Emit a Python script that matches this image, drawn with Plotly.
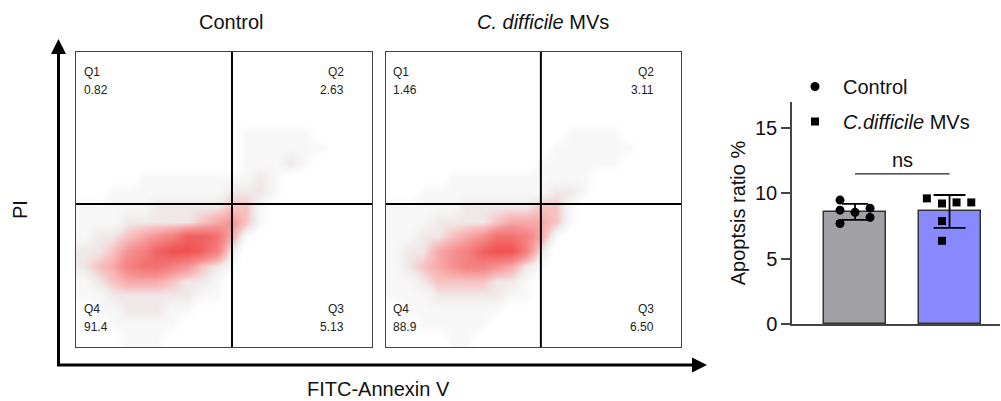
import numpy as np
import plotly.graph_objects as go

W, H = 1001, 401

# ---------------- data ----------------
panel_titles = ["Control", "<i>C. difficile</i> MVs"]
quad_names = ["Q1", "Q2", "Q3", "Q4"]
quad_control = ["0.82", "2.63", "5.13", "91.4"]
quad_mvs = ["1.46", "3.11", "6.50", "88.9"]
gate_x = [0.527, 0.525]
gate_y = [0.485, 0.485]

# estimated event density (0-9), rows top -> bottom
density_control = [
    "00000000000000000000",
    "00000000000000000000",
    "00000000000000000000",
    "00000000000000000000",
    "00000000000000000000",
    "00000000000111110000",
    "00000000000111111000",
    "00000000000111210000",
    "00001111111121000000",
    "00111111112221000000",
    "11111222223310000000",
    "11122222345310000000",
    "12234568874100000000",
    "22356899862000000000",
    "23467765321000000000",
    "12344432210000000000",
    "11222222110000000000",
    "01122211000000000000",
    "00111110000000000000",
    "00011100000000000000",
]
density_mvs = [
    "00000000000000000000",
    "00000000000000000000",
    "00000000000000000000",
    "00000000000000000000",
    "00000000000000000000",
    "00000000000011110000",
    "00000000000111111000",
    "00000000001111110000",
    "00001111111111000000",
    "00111111111221000000",
    "11111222223310000000",
    "11122223444310000000",
    "11223457764100000000",
    "12245689962000000000",
    "12345665421000000000",
    "11233332210000000000",
    "11122222110000000000",
    "01111111000000000000",
    "00111110000000000000",
    "00001100000000000000",
]

groups = ["Control", "<i>C.difficile</i> MVs"]
control_vals = [9.49, 8.72, 8.55, 8.87, 8.16, 7.70]
mvs_vals = [9.62, 9.23, 9.31, 9.31, 7.88, 6.37]
control_jitter = [-0.159, -0.159, 0.0, 0.159, 0.159, -0.159]
mvs_jitter = [-0.24, -0.08, 0.074, 0.23, -0.08, -0.08]
bar_ticks = [0, 5, 10, 15]
sig_label = "ns"
sig_y = 11.5


def px(x):
    return x / W


def py(y):
    return 1 - y / H


FONT = "Arial, Liberation Sans, sans-serif"
fig = go.Figure()

cs = [
    [0.0, "rgba(255,255,255,0)"],
    [0.111, "rgba(238,238,238,0.45)"],
    [0.222, "rgb(240,232,232)"],
    [0.333, "rgb(247,194,194)"],
    [0.555, "rgb(246,145,145)"],
    [1.0, "rgb(240,80,80)"],
]

centers = np.linspace(0.025, 0.975, 20)
for i, dens in enumerate([density_control, density_mvs]):
    z = np.array([[int(c) for c in row] for row in dens])[::-1]
    ax = "" if i == 0 else "2"
    fig.add_trace(go.Heatmap(
        x=centers, y=centers, z=z, zmin=0, zmax=9, colorscale=cs,
        zsmooth="best", showscale=False, hoverinfo="skip",
        xaxis="x" + ax, yaxis="y" + ax))

# bars
means = [float(np.mean(control_vals)), float(np.mean(mvs_vals))]
sds = [float(np.std(control_vals, ddof=1)), float(np.std(mvs_vals, ddof=1))]
bar_colors = ["#a2a2a6", "#8888ff"]
cap_w = [13, 16]
for k in range(2):
    fig.add_trace(go.Bar(
        x=[k], y=[means[k]], width=0.656,
        marker=dict(color=bar_colors[k], line=dict(color="#333333", width=1.5)),
        error_y=dict(type="data", array=[sds[k]], color="black", thickness=1.8, width=cap_w[k]),
        showlegend=False, xaxis="x3", yaxis="y3", hoverinfo="skip"))

fig.add_trace(go.Scatter(
    x=[0 + j for j in control_jitter], y=control_vals, mode="markers",
    marker=dict(symbol="circle", size=9, color="black"),
    name=groups[0], xaxis="x3", yaxis="y3", legendgroup="a"))
fig.add_trace(go.Scatter(
    x=[1 + j for j in mvs_jitter], y=mvs_vals, mode="markers",
    marker=dict(symbol="square", size=8, color="black"),
    name=groups[1], xaxis="x3", yaxis="y3", legendgroup="b"))

panel_axis = dict(range=[0, 1], showticklabels=False, showgrid=False, zeroline=False,
                  showline=True, mirror=True, linecolor="#444444", linewidth=1, ticks="", fixedrange=True)
ydom = [py(347), py(52)]

layout = dict(
    width=W, height=H, margin=dict(l=0, r=0, t=0, b=0, autoexpand=False),
    paper_bgcolor="white", plot_bgcolor="rgba(0,0,0,0)",
    font=dict(family=FONT, color="#111111"),
    xaxis=dict(domain=[px(76), px(372)], anchor="y", **panel_axis),
    yaxis=dict(domain=ydom, anchor="x", **panel_axis),
    xaxis2=dict(domain=[px(386), px(681)], anchor="y2", **panel_axis),
    yaxis2=dict(domain=ydom, anchor="x2", **panel_axis),
    xaxis3=dict(domain=[px(792), px(1000)], anchor="y3", range=[-0.667, 1.534],
                showticklabels=False, showgrid=False, zeroline=False, showline=True,
                linecolor="#444444", linewidth=1.5, ticks=""),
    yaxis3=dict(domain=[py(324), py(102)], anchor="x3", range=[0, 17],
                tickvals=bar_ticks, ticks="outside", ticklen=9, tickwidth=1.5, tickcolor="#444444",
                showgrid=False, zeroline=False, showline=True, linecolor="#444444", linewidth=1.5,
                tickfont=dict(size=20, color="#111111"),
                title=dict(text="Apoptsis ratio %", font=dict(size=20, color="#111111"), standoff=4)),
    showlegend=True,
    legend=dict(x=px(787), y=py(67), xanchor="left", yanchor="top", font=dict(size=20, color="#111111"),
                bgcolor="rgba(0,0,0,0)", traceorder="grouped", tracegroupgap=6, itemwidth=46),
    bargap=0,
)
fig.update_layout(**layout)

shapes = []
annotations = []
for i in range(2):
    ax = "x" if i == 0 else "x2"
    ay = "y" if i == 0 else "y2"
    shapes.append(dict(type="line", xref=ax, yref=ay, x0=gate_x[i], x1=gate_x[i], y0=0, y1=1,
                       line=dict(color="black", width=2)))
    shapes.append(dict(type="line", xref=ax, yref=ay, x0=0, x1=1, y0=gate_y[i], y1=gate_y[i],
                       line=dict(color="black", width=2)))
    vals = quad_control if i == 0 else quad_mvs
    rshift = -26 if i == 0 else -25
    lshift = 6 if i == 0 else 5
    spec = [
        (0, 0, "left", lshift, True),
        (1, 1, "right", rshift, True),
        (2, 1, "right", rshift, False),
        (3, 0, "left", lshift, False),
    ]
    for qi, xd, xa, xs, top in spec:
        if top:
            y0, s1, s2 = 1, -20, -38
        else:
            y0, s1, s2 = 0, 38, 20
        annotations.append(dict(text=quad_names[qi], xref=ax + " domain", yref=ay + " domain",
                                x=xd, y=y0, xanchor=xa, yanchor="middle", xshift=xs, yshift=s1,
                                showarrow=False, font=dict(size=12, color="#222222")))
        annotations.append(dict(text=vals[qi], xref=ax + " domain", yref=ay + " domain",
                                x=xd, y=y0, xanchor=xa, yanchor="middle", xshift=xs, yshift=s2,
                                showarrow=False, font=dict(size=12, color="#222222")))


def label(text, x, y, angle=0):
    annotations.append(dict(text=text, xref="paper", yref="paper", x=px(x), y=py(y),
                            xanchor="center", yanchor="middle", textangle=angle,
                            showarrow=False, font=dict(size=20, color="#111111")))


label(panel_titles[0], 231, 22)
label(panel_titles[1], 543, 22)
label("FITC-Annexin V", 378, 389)
label("PI", 20, 210, -90)

# arrows
shapes.append(dict(type="line", xref="paper", yref="paper", x0=px(58.5), x1=px(58.5), y0=py(366), y1=py(50),
                   line=dict(color="black", width=3)))
shapes.append(dict(type="line", xref="paper", yref="paper", x0=px(57), x1=px(695), y0=py(365), y1=py(365),
                   line=dict(color="black", width=3)))
shapes.append(dict(type="path", xref="paper", yref="paper",
                   path=f"M {px(51)} {py(54)} L {px(66)} {py(54)} L {px(58.5)} {py(39)} Z",
                   fillcolor="black", line=dict(color="black", width=0)))
shapes.append(dict(type="path", xref="paper", yref="paper",
                   path=f"M {px(692)} {py(357.5)} L {px(692)} {py(372.5)} L {px(707)} {py(365)} Z",
                   fillcolor="black", line=dict(color="black", width=0)))

# significance bracket
shapes.append(dict(type="line", xref="x3", yref="y3", x0=0, x1=1, y0=sig_y, y1=sig_y,
                   line=dict(color="#222222", width=1.2)))
annotations.append(dict(text=sig_label, xref="x3", yref="y3", x=0.5, y=sig_y, xanchor="center",
                        yanchor="bottom", yshift=1, showarrow=False, font=dict(size=20, color="#111111")))

fig.update_layout(shapes=shapes, annotations=annotations)
fig.write_html("out.html", config={"displayModeBar": False},
               post_script="document.body.style.margin='0';document.body.style.overflow='hidden';")
